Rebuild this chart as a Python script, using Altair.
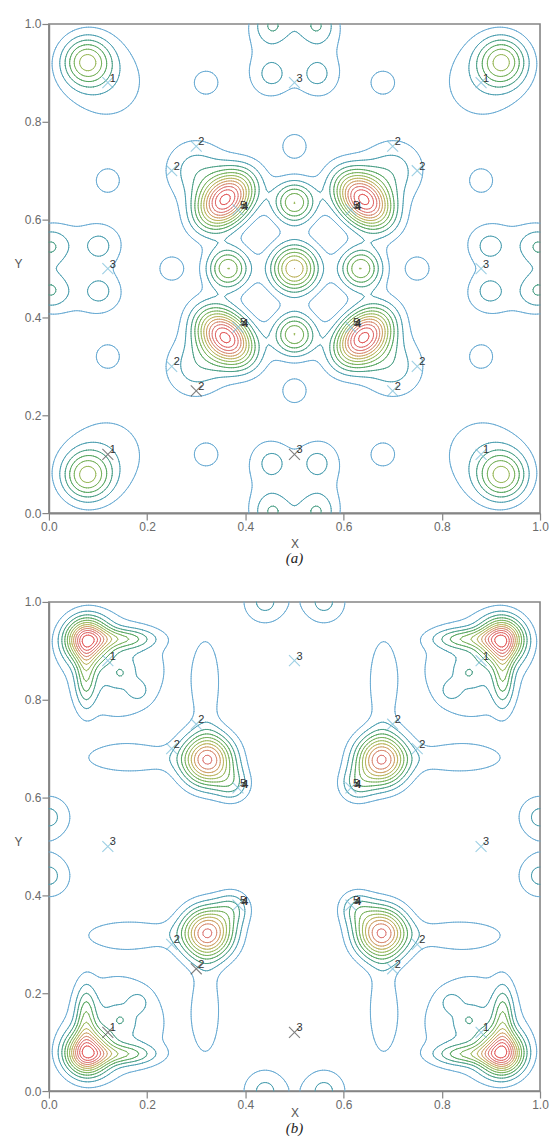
import numpy as np
import pandas as pd
import altair as alt

# ---------------- contour levels and colours ----------------
LEVELS = [1, 2, 3, 4, 5, 6, 7, 8, 9, 10, 11, 12, 13]
LEVEL_COLORS = ["#69abd3", "#4c9fb0", "#4a9f86", "#56a65f", "#78b25c", "#9cba5e",
                "#bcb45e", "#cfa166", "#d88e74", "#dd7b78", "#e06a6a", "#e25a5a", "#e34a4a"]

# ---------------- panel (a): density peaks (one per symmetry orbit) ----------------
A_PX = [0.077, 0.120, 0.360, 0.300, 0.500, 0.500, 0.320, 0.500, 0.455, 0.455, 0.445]
A_PY = [0.923, 0.880, 0.640, 0.700, 0.500, 0.635, 0.880, 0.750, 0.103, 0.000, 0.095]
A_PH = [5.6, 1.5, 12.0, 2.5, 8.0, 6.0, 1.9, 1.9, 1.2, 2.8, 1.35]
A_SA = [0.034, 0.070, 0.032, 0.045, 0.034, 0.030, 0.020, 0.020, 0.020, 0.030, 0.042]
A_SB = [0.034, 0.070, 0.046, 0.045, 0.034, 0.030, 0.020, 0.020, 0.020, 0.030, 0.055]
A_TH = [0, 0, -45, 0, 0, 0, 0, 0, 0, 0, 0]

# ---------------- panel (b): density peaks (one per symmetry orbit) ----------------
B_PX = [0.077, 0.150, 0.140, 0.146, 0.183, 0.323, 0.375, 0.320, 0.000]
B_PY = [0.923, 0.925, 0.860, 0.854, 0.817, 0.677, 0.625, 0.835, 0.560]
B_PH = [10.0, 3.5, 2.2, 0.9, 1.0, 10.0, 2.5, 1.85, 2.3]
B_SA = [0.030, 0.045, 0.075, 0.012, 0.014, 0.036, 0.025, 0.070, 0.033]
B_SB = [0.030, 0.014, 0.075, 0.012, 0.014, 0.036, 0.025, 0.022, 0.033]
B_TH = [0, 0, 0, 0, 0, 0, 0, 90, 0]

# ---------------- atom site markers ----------------
M_X = [0.12, 0.88, 0.12, 0.88,
       0.30, 0.25, 0.70, 0.75, 0.25, 0.30, 0.70, 0.75,
       0.50, 0.12, 0.88, 0.50,
       0.385, 0.615, 0.385, 0.615]
M_Y = [0.88, 0.88, 0.12, 0.12,
       0.75, 0.70, 0.75, 0.70, 0.30, 0.25, 0.25, 0.30,
       0.88, 0.50, 0.50, 0.12,
       0.62, 0.62, 0.38, 0.38]
M_LABEL = ["1", "1", "1", "1",
           "2", "2", "2", "2", "2", "2", "2", "2",
           "3", "3", "3", "3",
           "5", "5", "5", "5"]
A_MCOL = ["c", "c", "k", "c",
          "c", "c", "c", "c", "c", "k", "c", "c",
          "c", "c", "c", "k",
          "c", "c", "c", "c"]
B_MCOL = ["c", "c", "k", "c",
          "c", "c", "c", "c", "c", "k", "c", "c",
          "c", "c", "c", "k",
          "c", "c", "c", "c"]

TICKS = [0.0, 0.2, 0.4, 0.6, 0.8, 1.0]

# ---------------- symmetry (4mm of the square cell) ----------------
OPS = [
    (np.array([[1, 0], [0, 1]]), np.array([0, 0])),
    (np.array([[-1, 0], [0, 1]]), np.array([1, 0])),
    (np.array([[1, 0], [0, -1]]), np.array([0, 1])),
    (np.array([[-1, 0], [0, -1]]), np.array([1, 1])),
    (np.array([[0, 1], [1, 0]]), np.array([0, 0])),
    (np.array([[0, -1], [1, 0]]), np.array([1, 0])),
    (np.array([[0, 1], [-1, 0]]), np.array([0, 1])),
    (np.array([[0, -1], [-1, 0]]), np.array([1, 1])),
]


def expand(px, py, ph, sa, sb, th):
    out, seen = [], set()
    for x, y, h, a, b, t in zip(px, py, ph, sa, sb, th):
        r = np.deg2rad(t)
        R = np.array([[np.cos(r), -np.sin(r)], [np.sin(r), np.cos(r)]])
        C = R @ np.diag([a * a, b * b]) @ R.T
        for M, off in OPS:
            p = M @ np.array([x, y]) + off
            C2 = M @ C @ M.T
            key = (round(p[0], 4), round(p[1], 4), round(C2[0, 0], 7),
                   round(C2[1, 1], 7), round(C2[0, 1], 7))
            if key in seen:
                continue
            seen.add(key)
            out.append((p, h, np.linalg.inv(C2)))
    return out


def field(peaks, n=211):
    g = np.linspace(0, 1, n)
    X, Y = np.meshgrid(g, g)
    F = np.zeros_like(X)
    for p, h, Ci in peaks:
        dx, dy = X - p[0], Y - p[1]
        q = Ci[0, 0] * dx * dx + 2 * Ci[0, 1] * dx * dy + Ci[1, 1] * dy * dy
        F += h * np.exp(-0.5 * q)
    return g, F


def march(g, F, lev):
    a = F[:-1, :-1]; b = F[:-1, 1:]; c = F[1:, 1:]; d = F[1:, :-1]
    shp = a.shape
    X0 = np.broadcast_to(g[:-1][None, :], shp); X1 = np.broadcast_to(g[1:][None, :], shp)
    Y0 = np.broadcast_to(g[:-1][:, None], shp); Y1 = np.broadcast_to(g[1:][:, None], shp)
    code = (a > lev) * 1 + (b > lev) * 2 + (c > lev) * 4 + (d > lev) * 8
    cen = (a + b + c + d) / 4.0

    def t(v1, v2):
        with np.errstate(divide="ignore", invalid="ignore"):
            r = (lev - v1) / (v2 - v1)
        return np.nan_to_num(r, nan=0.5)

    E = [
        (X0 + (X1 - X0) * t(a, b), Y0),
        (X1, Y0 + (Y1 - Y0) * t(b, c)),
        (X0 + (X1 - X0) * t(d, c), Y1),
        (X0, Y0 + (Y1 - Y0) * t(a, d)),
    ]
    table = {1: [(3, 0)], 2: [(0, 1)], 3: [(3, 1)], 4: [(1, 2)], 6: [(0, 2)],
             7: [(3, 2)], 8: [(2, 3)], 9: [(0, 2)], 11: [(1, 2)], 12: [(3, 1)],
             13: [(0, 1)], 14: [(3, 0)]}
    rows = []

    def add(mask, e1, e2):
        if mask.any():
            rows.append(np.stack([E[e1][0][mask], E[e1][1][mask],
                                  E[e2][0][mask], E[e2][1][mask]], axis=1))

    for k, pairs in table.items():
        m = code == k
        for e1, e2 in pairs:
            add(m, e1, e2)
    m5 = code == 5
    add(m5 & (cen > lev), 0, 1); add(m5 & (cen > lev), 2, 3)
    add(m5 & (cen <= lev), 3, 0); add(m5 & (cen <= lev), 1, 2)
    m10 = code == 10
    add(m10 & (cen > lev), 3, 0); add(m10 & (cen > lev), 1, 2)
    add(m10 & (cen <= lev), 0, 1); add(m10 & (cen <= lev), 2, 3)
    if not rows:
        return np.zeros((0, 4))
    return np.concatenate(rows)


def segments(px, py, ph, sa, sb, th):
    g, F = field(expand(px, py, ph, sa, sb, th))
    parts = []
    for lev in LEVELS:
        s = march(g, F, lev)
        if len(s):
            df = pd.DataFrame(np.round(s, 4), columns=["x", "y", "x2", "y2"])
            df["lvl"] = lev
            parts.append(df)
    return pd.concat(parts, ignore_index=True)


CROSS = "M-1,-1L1,1M-1,1L1,-1"


def panel(segs, mcol, caption, title_pad, cap_off):
    xs = alt.Scale(domain=[0, 1], nice=False, zero=False)
    ys = alt.Scale(domain=[0, 1], nice=False, zero=False)
    common = dict(values=TICKS, format=".1f", grid=False, domainColor="#858585",
                  domainWidth=1.6, tickColor="#858585", tickWidth=1.2, tickSize=7,
                  labelPadding=1, labelColor="#6a6a6a", labelFontSize=12,
                  labelFont="Liberation Sans", labelFlush=False, labelOverlap=False,
                  titleFont="Liberation Sans", titleFontSize=12, titleFontWeight="normal",
                  titleColor="#555555")
    xa = alt.Axis(title="X", titlePadding=title_pad, **common)
    ya = alt.Axis(title="Y", titleAngle=0, titleX=-31, titleY=240, titleAlign="center",
                  titleBaseline="middle", **common)

    lines = alt.Chart(segs).mark_rule(strokeWidth=1, strokeCap="round").encode(
        x=alt.X("x:Q", scale=xs, axis=xa),
        y=alt.Y("y:Q", scale=ys, axis=ya),
        x2="x2:Q", y2="y2:Q",
        color=alt.Color("lvl:O", scale=alt.Scale(domain=LEVELS, range=LEVEL_COLORS),
                        legend=None),
    )
    mk = pd.DataFrame({"x": M_X, "y": M_Y, "label": M_LABEL, "col": mcol})
    crosses = alt.Chart(mk).mark_point(shape=CROSS, size=120, filled=False,
                                       strokeWidth=1.1).encode(
        x=alt.X("x:Q", scale=xs), y=alt.Y("y:Q", scale=ys),
        color=alt.Color("col:N", scale=alt.Scale(domain=["c", "k"],
                                                 range=["#74bcd9", "#4a4a4a"]),
                        legend=None),
    )
    labels = alt.Chart(mk).mark_text(align="left", baseline="middle", dx=2, dy=-4,
                                     fontSize=11, font="Liberation Sans",
                                     color="#333333").encode(
        x=alt.X("x:Q", scale=xs), y=alt.Y("y:Q", scale=ys), text="label:N")
    extra = alt.Chart(mk).transform_filter(alt.datum.label == "5").mark_text(
        align="left", baseline="middle", dx=4, dy=-3, fontSize=11,
        font="Liberation Sans", fontWeight="bold", color="#333333", text="4").encode(
        x=alt.X("x:Q", scale=xs), y=alt.Y("y:Q", scale=ys))
    return alt.layer(lines, crosses, labels, extra).resolve_scale(color="independent").properties(
        width=492, height=490,
        title=alt.TitleParams(caption, orient="bottom", anchor="middle",
                              font="Liberation Serif", fontStyle="italic",
                              fontSize=15, fontWeight="normal", color="#222222",
                              offset=cap_off),
    )


segA = segments(A_PX, A_PY, A_PH, A_SA, A_SB, A_TH)
segB = segments(B_PX, B_PY, B_PH, B_SA, B_SB, B_TH)

chart = alt.vconcat(panel(segA, A_MCOL, "(a)", 6, 2), panel(segB, B_MCOL, "(b)", -3, 3),
                    spacing=28).properties(
    padding={"left": 13, "top": 16, "right": 0, "bottom": 0},
    background="white",
).configure_view(stroke="#858585", strokeWidth=1.6)

chart.save("out.html", embed_options={"renderer": "svg", "actions": False})
